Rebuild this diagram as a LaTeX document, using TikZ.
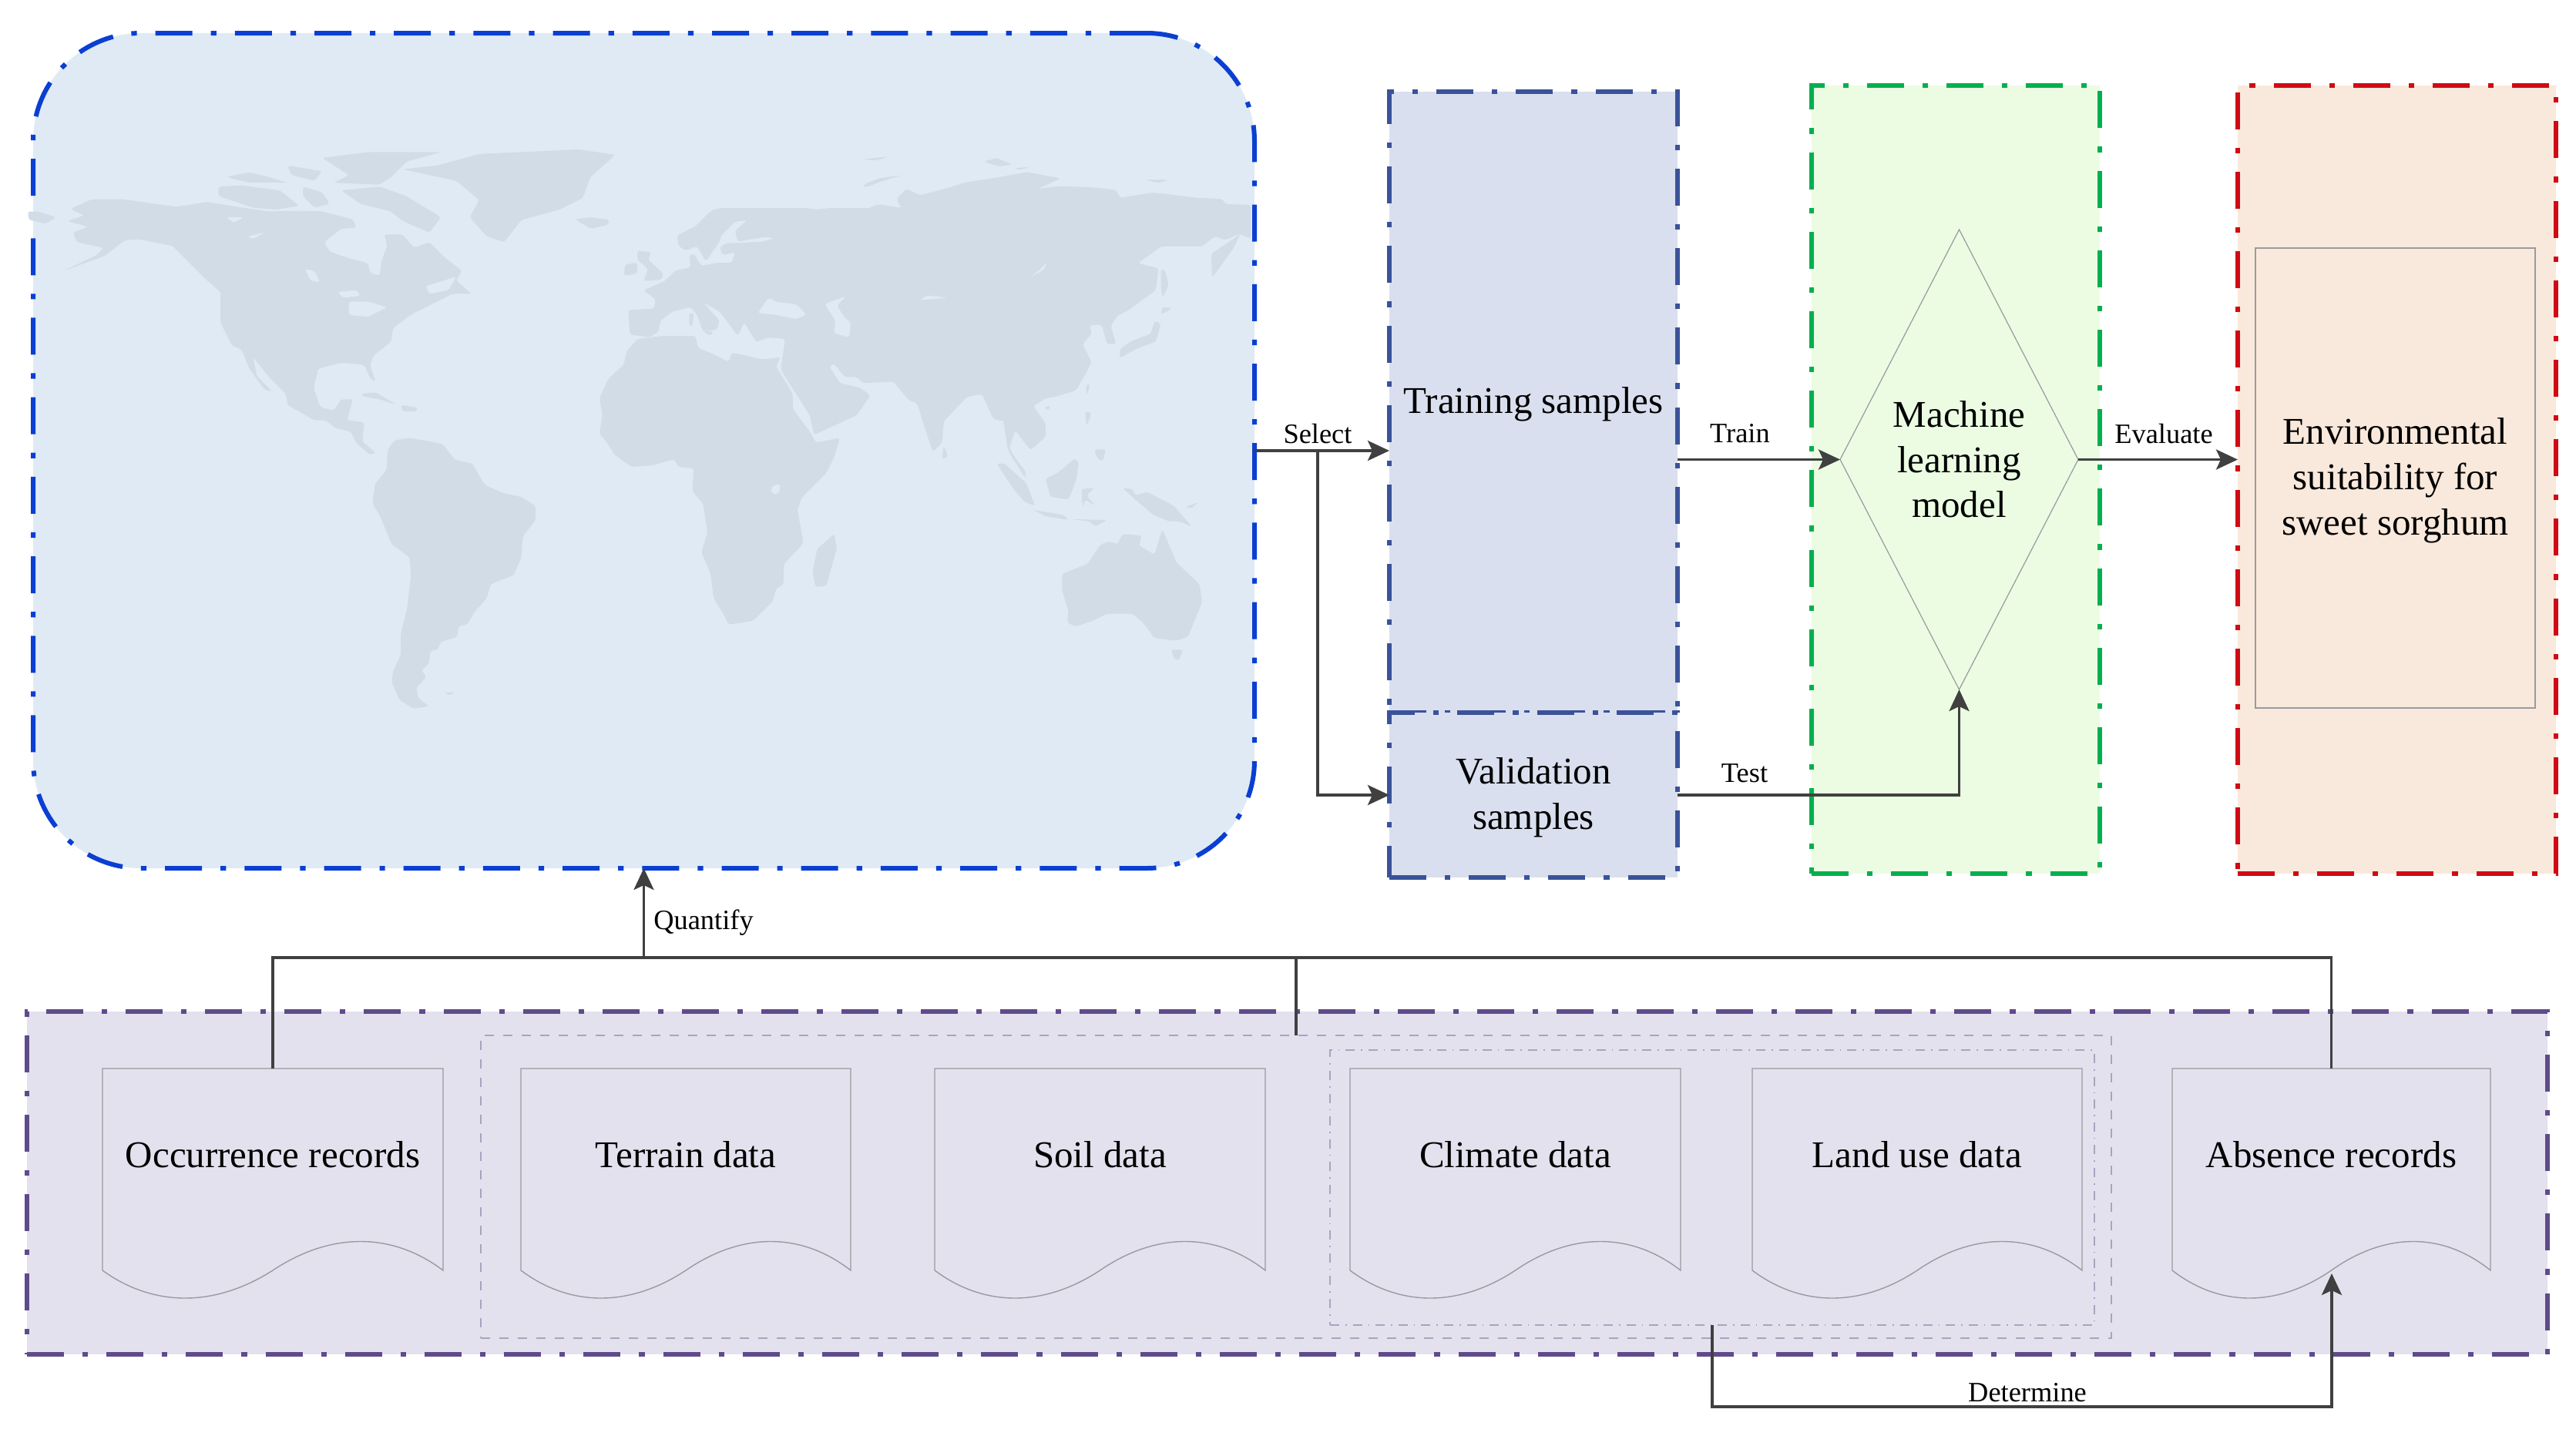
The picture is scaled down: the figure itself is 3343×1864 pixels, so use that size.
\documentclass[tikz,border=0pt]{standalone}
\usepackage{fontspec}
\setmainfont{Liberation Serif}
\usetikzlibrary{arrows.meta,shapes.geometric}
\definecolor{bluestroke}{HTML}{0A3FD2}
\definecolor{bluefill}{HTML}{DFEAF4}
\definecolor{landcol}{HTML}{D2DCE6}
\definecolor{navystroke}{HTML}{3A5299}
\definecolor{navyfill}{HTML}{D9DFEE}
\definecolor{greenstroke}{HTML}{00B050}
\definecolor{greenfill}{HTML}{EBFCE2}
\definecolor{redstroke}{HTML}{D00A14}
\definecolor{redfill}{HTML}{F9E9DC}
\definecolor{violetstroke}{HTML}{5F4B8B}
\definecolor{violetfill}{HTML}{E4E1EE}
\definecolor{conncol}{HTML}{404040}
\definecolor{thincol}{HTML}{9A9A9E}
\definecolor{softdash}{HTML}{A9A3C2}
\tikzset{
  x=0.25pt,y=-0.25pt,
  bigtext/.style={font=\fontsize{12.25}{14.65}\selectfont,text=black,align=center},
  smalltext/.style={font=\fontsize{9.1}{11}\selectfont,text=black,inner sep=0pt},
  panelbox/.style={rectangle,inner sep=0pt,outer sep=0pt,line width=1.5pt,bigtext,
     dash pattern=on 12pt off 6pt on 1.8pt off 6pt},
  docbox/.style={rectangle,inner sep=0pt,outer sep=0pt,bigtext},
  docline/.style={draw=thincol,line width=0.35pt},
  softbox/.style={rectangle,draw=softdash,line width=0.4pt,inner sep=0pt,outer sep=0pt},
  conn/.style={draw=conncol,line width=0.9pt},
  connarrow/.style={conn,-{Stealth[length=7pt,width=6.5pt,inset=1.5pt]}},
  landfill/.style={fill=landcol,draw=none,rounded corners=0.8pt},
  waterfill/.style={fill=bluefill,draw=none,rounded corners=0.8pt},
}
\newcommand\lowered[1]{\raisebox{-0.8pt}[\height][\depth]{#1}}
\newcommand\boxat[7]{% style, name, x0,y0,x1,y1, text
  \node[#1,anchor=north west,minimum width={(#5-#3)*0.25pt},minimum height={(#6-#4)*0.25pt}] (#2) at (#3,#4) {#7};}
\newcommand\docat[4]{% name, x0, x1, text
  \pgfmathsetmacro\dw{#3-#2}
  \pgfmathsetmacro\dc{(#3+#2)/2}
  \node[docbox,minimum width={(#3-#2)*0.25pt},minimum height=56pt] (#1) at (\dc,1499) {#4};
  \draw[docline] (#1.north east) -- ({#3},1649)
    .. controls ({#3-.15*\dw},1599) and ({#3-.33*\dw},1599) .. ({#2+.5*\dw},1649)
    .. controls ({#2+.33*\dw},1697) and ({#2+.15*\dw},1697) .. ({#2},1649)
    -- (#1.north west) -- cycle;}
\begin{document}
\begin{tikzpicture}
\useasboundingbox (0,0) rectangle (3343,1864);
% panels
\boxat{panelbox,draw=bluestroke,fill=bluefill,rounded corners=35pt}{map}{43}{43}{1628}{1127}{}
\boxat{panelbox,draw=navystroke,fill=navyfill}{train}{1803}{119}{2177}{925}{\lowered{Training samples}}
\boxat{panelbox,draw=navystroke,fill=navyfill}{valid}{1803}{925}{2177}{1139}{\lowered{Validation}\\\lowered{samples}}
\boxat{panelbox,draw=greenstroke,fill=greenfill}{greenp}{2351}{111}{2725}{1134}{}
\boxat{panelbox,draw=redstroke,fill=redfill}{redp}{2904}{111}{3317}{1134}{}
\boxat{panelbox,draw=violetstroke,fill=violetfill}{datap}{35}{1313}{3306}{1758}{}
% world map: Americas and North Atlantic
\begin{scope}[shift={(30,180)},x=0.12436pt,y=-0.12436pt]
\fill[landfill] (130,180)--(180,158)--(260,158)--(400,178)--(480,165)--(560,178)--(640,190)--(720,188)--(780,190)--(860,210)--(870,232)--(830,235)--(785,270)--(800,295)--(850,312)--(900,325)--(905,350)--(930,358)--(935,320)--(950,280)--(942,250)--(990,250)--(1020,285)--(1060,270)--(1100,310)--(1145,345)--(1130,370)--(1170,405)--(1120,405)--(1090,420)--(1050,440)--(1010,460)--(965,495)--(960,530)--(915,565)--(905,590)--(920,635)--(905,625)--(890,590)--(830,585)--(770,600)--(758,650)--(775,700)--(810,710)--(830,680)--(860,680)--(845,735)--(890,740)--(885,790)--(920,820)--(905,825)--(870,795)--(855,765)--(815,755)--(790,735)--(760,735)--(690,695)--(685,665)--(640,620)--(600,570)--(610,620)--(650,660)--(630,655)--(590,600)--(570,550)--(545,540)--(515,480)--(515,400)--(480,370)--(430,320)--(390,280)--(300,262)--(265,265)--(215,305)--(105,345)--(190,305)--(210,285)--(140,270)--(130,245)--(170,230)--(115,215)--(160,200)--(125,185)--cycle;
\fill[landfill] (12,190)--(40,190)--(85,205)--(60,222)--(15,212)--cycle;
\fill[landfill] (510,125)--(570,122)--(670,135)--(720,175)--(660,185)--(600,180)--(510,150)--cycle;
\fill[landfill] (530,100)--(590,88)--(640,100)--(690,115)--(590,115)--cycle;
\fill[landfill] (690,70)--(780,85)--(760,110)--(700,95)--cycle;
\fill[landfill] (780,50)--(900,35)--(1090,35)--(1000,60)--(960,100)--(930,120)--(810,115)--(850,95)--cycle;
\fill[landfill] (830,135)--(930,125)--(1000,150)--(1090,205)--(1060,245)--(990,215)--(960,190)--(880,170)--cycle;
\fill[landfill] (730,125)--(780,140)--(800,170)--(760,180)--(730,150)--cycle;
\fill[landfill] (990,80)--(1080,70)--(1190,40)--(1450,28)--(1545,42)--(1480,100)--(1460,155)--(1400,185)--(1300,212)--(1255,270)--(1210,255)--(1165,205)--(1190,160)--(1130,110)--cycle;
\fill[landfill] (1440,210)--(1480,205)--(1530,212)--(1525,225)--(1480,235)--cycle;
\fill[landfill] (885,665)--(920,662)--(975,695)--(930,680)--(885,672)--cycle;
\fill[landfill] (985,695)--(1030,702)--(1025,712)--(990,712)--cycle;
\fill[waterfill] (820,400)--(870,395)--(880,410)--(835,415)--cycle;
\fill[waterfill] (850,425)--(900,425)--(950,440)--(900,465)--(850,460)--cycle;
\fill[waterfill] (530,205)--(575,205)--(550,220)--cycle;
\fill[waterfill] (585,255)--(630,245)--(600,262)--cycle;
\fill[waterfill] (735,340)--(760,345)--(775,375)--(750,370)--cycle;
\fill[waterfill] (1050,385)--(1130,360)--(1110,395)--(1060,405)--cycle;
\end{scope}
% South America
\begin{scope}[shift={(460,550)},x=0.08333pt,y=-0.08333pt]
\fill[landfill] (130,100)--(155,65)--(210,55)--(300,70)--(345,80)--(390,140)--(460,155)--(490,210)--(510,240)--(580,270)--(650,285)--(705,320)--(705,375)--(655,440)--(650,520)--(620,590)--(530,625)--(515,680)--(470,730)--(440,780)--(405,790)--(400,830)--(335,850)--(325,880)--(295,885)--(290,935)--(260,960)--(280,985)--(240,1030)--(250,1070)--(290,1100)--(230,1110)--(175,1075)--(145,1005)--(150,965)--(180,900)--(180,820)--(205,720)--(220,590)--(215,520)--(145,470)--(100,360)--(70,310)--(80,235)--(125,180)--cycle;
\fill[landfill] (350,1048)--(390,1045)--(375,1058)--cycle;
\end{scope}
% Africa, Europe and western Asia
\begin{scope}[shift={(760,270)},x=0.09885pt,y=-0.09885pt]
\fill[landfill] (170,430)--(250,420)--(360,420)--(370,460)--(420,480)--(470,505)--(480,475)--(530,485)--(580,497)--(640,490)--(625,520)--(680,610)--(680,660)--(740,740)--(755,770)--(835,755)--(815,820)--(790,870)--(710,950)--(695,990)--(715,1100)--(650,1170)--(650,1235)--(625,1250)--(615,1290)--(550,1355)--(470,1368)--(450,1330)--(420,1280)--(410,1200)--(380,1130)--(400,1065)--(385,970)--(350,930)--(355,855)--(305,850)--(290,825)--(220,845)--(150,850)--(95,810)--(70,770)--(45,740)--(55,680)--(45,625)--(75,560)--(125,515)--(135,470)--cycle;
\fill[landfill] (815,1070)--(825,1115)--(790,1240)--(755,1245)--(745,1195)--(760,1120)--cycle;
\fill[waterfill] (610,915)--(635,905)--(640,925)--(625,942)--(610,935)--cycle;
\fill[landfill] (140,335)--(225,330)--(230,300)--(190,270)--(260,240)--(295,205)--(345,195)--(340,155)--(355,150)--(380,190)--(430,180)--(480,180)--(490,145)--(450,155)--(440,130)--(460,115)--(500,115)--(580,110)--(620,100)--(590,95)--(500,110)--(490,75)--(530,40)--(490,45)--(445,90)--(440,110)--(395,175)--(365,125)--(330,140)--(305,125)--(300,90)--(360,60)--(410,10)--(440,0)--(720,0)--(760,5)--(800,0)--(1568,0)--(1568,610)--(1510,625)--(1470,650)--(1510,710)--(1510,750)--(1460,795)--(1410,730)--(1390,790)--(1440,870)--(1450,890)--(1400,820)--(1385,790)--(1370,690)--(1340,695)--(1300,610)--(1250,620)--(1175,700)--(1170,770)--(1140,800)--(1110,710)--(1085,620)--(1060,630)--(1010,570)--(910,575)--(890,555)--(850,555)--(815,510)--(800,520)--(835,575)--(900,590)--(935,615)--(890,680)--(750,745)--(735,680)--(640,530)--(655,430)--(600,425)--(560,440)--(520,375)--(500,420)--(440,340)--(385,310)--(440,370)--(430,400)--(385,405)--(365,350)--(345,325)--(285,340)--(245,370)--(240,405)--(210,425)--(145,415)--cycle;
\fill[waterfill] (565,345)--(600,295)--(630,310)--(690,315)--(725,350)--(690,365)--(620,350)--cycle;
\fill[waterfill] (785,315)--(855,290)--(825,320)--(850,360)--(870,375)--(865,425)--(815,410)--(820,370)--cycle;
\fill[waterfill] (920,310)--(950,295)--(955,315)--(935,330)--cycle;
\fill[landfill] (170,140)--(215,145)--(205,170)--(255,215)--(250,235)--(190,240)--(205,200)--(170,170)--cycle;
\fill[landfill] (130,185)--(170,180)--(170,215)--(125,222)--cycle;
\fill[landfill] (1175,780)--(1190,815)--(1170,825)--cycle;
\fill[landfill] (340,345)--(355,345)--(350,390)--(340,385)--cycle;
\fill[landfill] (385,405)--(420,405)--(410,420)--cycle;
\end{scope}
% East Asia
\begin{scope}[shift={(1120,190)},x=0.08333pt,y=-0.08333pt]
\fill[landfill] (0,250)--(60,225)--(150,240)--(130,205)--(170,165)--(210,185)--(225,190)--(320,165)--(400,140)--(500,125)--(640,100)--(770,125)--(680,165)--(760,155)--(900,160)--(985,170)--(1000,200)--(1130,180)--(1300,200)--(1400,205)--(1410,225)--(1510,228)--(1510,360)--(1465,340)--(1410,365)--(1370,350)--(1320,390)--(1160,390)--(1070,455)--(1150,475)--(1140,560)--(1030,640)--(990,660)--(965,700)--(985,770)--(950,770)--(930,695)--(900,695)--(830,710)--(880,680)--(890,730)--(855,770)--(890,840)--(870,880)--(830,950)--(750,975)--(680,985)--(660,1020)--(710,1075)--(710,1130)--(660,1175)--(590,1105)--(565,1165)--(590,1210)--(635,1270)--(630,1290)--(570,1190)--(555,1070)--(515,1065)--(465,965)--(405,975)--(315,1070)--(305,1150)--(270,1185)--(210,1000)--(180,990)--(125,915)--(0,915)--cycle;
\fill[waterfill] (715,450)--(705,480)--(650,510)--(690,480)--cycle;
\fill[waterfill] (220,600)--(250,580)--(330,590)--(260,595)--cycle;
\fill[landfill] (1355,420)--(1470,340)--(1440,400)--(1360,510)--cycle;
\fill[landfill] (1160,480)--(1175,480)--(1190,540)--(1165,590)--(1160,540)--cycle;
\fill[landfill] (1165,625)--(1205,630)--(1160,655)--cycle;
\fill[landfill] (1135,680)--(1160,690)--(1140,760)--(1060,790)--(1000,825)--(1000,790)--(1040,760)--(1120,730)--cycle;
\fill[landfill] (870,925)--(885,930)--(870,970)--cycle;
\fill[landfill] (705,1015)--(730,1010)--(720,1030)--cycle;
\fill[landfill] (865,1030)--(890,1040)--(870,1090)--cycle;
\fill[landfill] (900,1180)--(945,1180)--(935,1225)--(915,1220)--cycle;
\fill[landfill] (0,150)--(60,125)--(150,112)--(60,140)--(10,160)--cycle;
\fill[landfill] (470,60)--(520,45)--(580,70)--(530,78)--cycle;
\fill[landfill] (590,85)--(650,80)--(610,92)--cycle;
\fill[landfill] (1095,130)--(1190,130)--(1150,142)--cycle;
\fill[landfill] (0,50)--(100,40)--(50,55)--cycle;
\end{scope}
% Indonesia and Oceania
\begin{scope}[shift={(1240,520)},x=0.08333pt,y=-0.08333pt]
\fill[landfill] (160,245)--(190,245)--(275,320)--(310,410)--(270,395)--(230,350)--cycle;
\fill[landfill] (300,425)--(420,445)--(440,465)--(350,450)--cycle;
\fill[landfill] (350,305)--(400,280)--(465,225)--(480,240)--(470,310)--(440,385)--(370,375)--cycle;
\fill[landfill] (490,345)--(540,340)--(510,370)--(545,410)--(505,385)--(495,415)--cycle;
\fill[landfill] (450,462)--(590,465)--(545,490)--(520,470)--cycle;
\fill[landfill] (650,340)--(690,345)--(700,370)--(745,355)--(850,410)--(920,490)--(870,470)--(830,470)--(770,445)--(700,385)--cycle;
\fill[landfill] (415,675)--(515,635)--(565,560)--(600,548)--(630,560)--(650,520)--(725,525)--(715,565)--(775,600)--(805,500)--(860,630)--(950,715)--(960,785)--(905,920)--(860,935)--(775,925)--(735,870)--(690,830)--(590,830)--(540,855)--(470,880)--(435,865)--(440,820)--(415,740)--cycle;
\fill[landfill] (840,970)--(885,970)--(870,1012)--(850,1005)--cycle;
\fill[landfill] (895,415)--(945,395)--(920,420)--cycle;
\end{scope}
% inner boxes
\node[rectangle,draw=thincol,line width=0.3pt,inner sep=0pt,outer sep=0pt,bigtext,anchor=north west,minimum width=90.75pt,minimum height=149.25pt] (env) at (2927,322) {\lowered{Environmental}\\\lowered{suitability for}\\\lowered{sweet sorghum}};
\node[diamond,draw=thincol,line width=0.3pt,inner sep=0pt,outer sep=0pt,bigtext,shape aspect=0.5176,minimum width=77.25pt,minimum height=149.25pt] (ml) at (2542.5,596.5) {Machine\\learning\\model};
\boxat{softbox,dashed}{outerd}{624}{1344}{2740}{1737}{}
\boxat{softbox,dash dot}{innerd}{1726}{1363}{2718}{1720}{}
% documents
\docat{occ}{133}{575}{Occurrence records}
\docat{terr}{676}{1104}{Terrain data}
\docat{soil}{1213}{1642}{Soil data}
\docat{clim}{1752}{2181}{Climate data}
\docat{land}{2274}{2702}{Land use data}
\docat{abs}{2819}{3232}{Absence records}
% connector helpers
\coordinate (busy) at (0,1243);
\coordinate (absw) at (3026,1653);
\coordinate (sel) at (1710,585);
\coordinate (detb) at (0,1826);
% connectors
\draw[connarrow] (map.east) -- (train.west |- map.east);
\draw[connarrow] (sel) |- (valid.west);
\draw[connarrow] (train.east |- ml.west) -- (ml.west);
\draw[connarrow] (valid.east) -| (ml.south);
\draw[connarrow] (ml.east) -- (redp.west |- ml.east);
\draw[conn] (occ.north) |- (abs.north |- busy) -- (abs.north);
\draw[conn] (outerd.north) -- (outerd.north |- busy);
\draw[connarrow] (map.south |- busy) -- (map.south);
\draw[connarrow] (innerd.south) |- (absw |- detb) -- (absw);
% labels
\node[smalltext] (lselect) at (1710,563) {Select};
\node[smalltext] (ltrain) at (2258,563) {Train};
\node[smalltext] (leval) at (2808,563) {Evaluate};
\node[smalltext] (ltest) at (2264,1004) {Test};
\node[smalltext] (lquant) at (913,1198) {Quantify};
\node[smalltext] (ldet) at (2631,1808) {Determine};
\end{tikzpicture}
\end{document}
